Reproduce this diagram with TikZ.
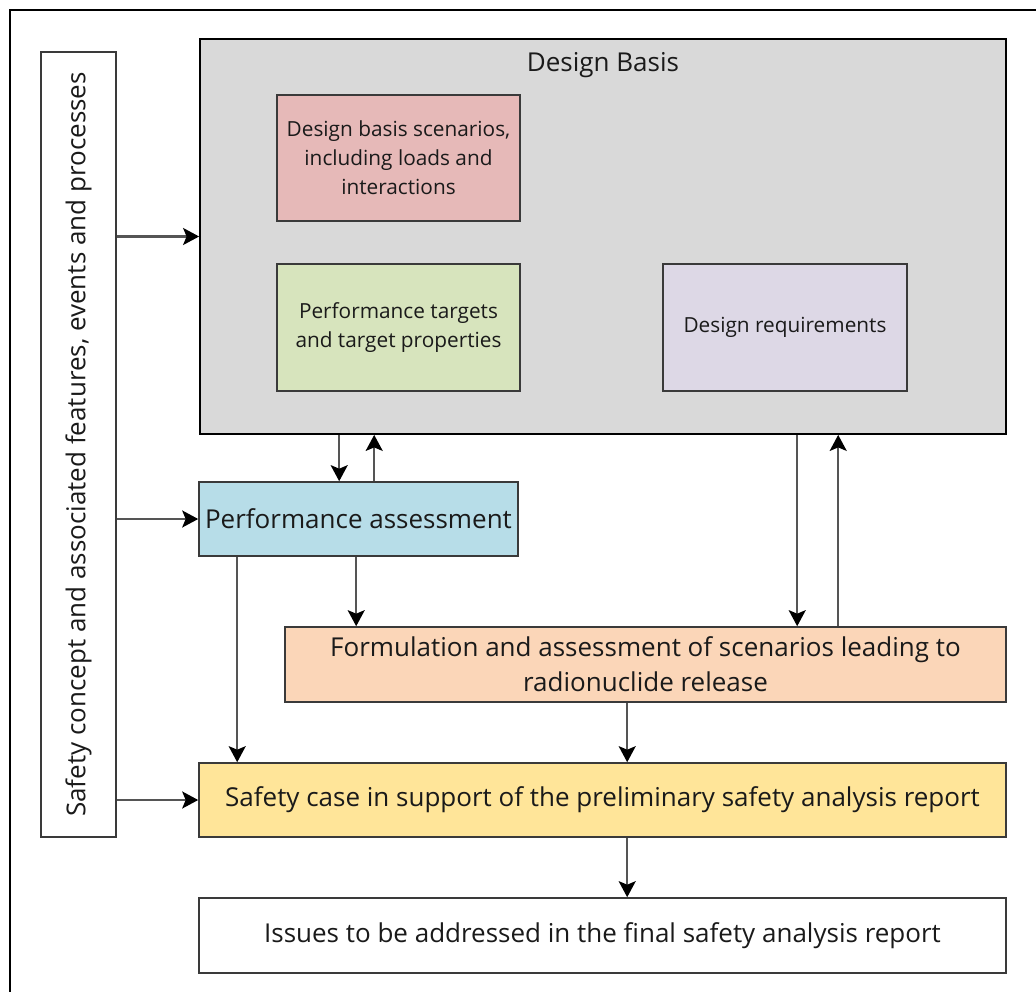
\documentclass[tikz,border=0pt]{standalone}
\usepackage{fontspec}
\setmainfont{Open Sans}
\usetikzlibrary{arrows.meta,calc}
\definecolor{dbgray}{HTML}{D9D9D9}
\definecolor{redfill}{HTML}{E6B9B8}
\definecolor{greenfill}{HTML}{D7E4BD}
\definecolor{purplefill}{HTML}{DDD8E6}
\definecolor{bluefill}{HTML}{B7DDE8}
\definecolor{peachfill}{HTML}{FBD6B8}
\definecolor{yellowfill}{HTML}{FFE599}
\definecolor{boxline}{HTML}{3A3A3A}
\definecolor{arrline}{HTML}{555555}
\definecolor{txt}{HTML}{1A1A1A}
\begin{document}
\begin{tikzpicture}[x=1pt,y=-1pt,
  box/.style={draw=boxline,line width=1.6pt,rectangle,inner sep=0pt,align=center,text=txt},
  label/.style={inner sep=0pt,align=center,text=txt},
  arr/.style={draw=arrline,line width=2.3pt,-{Stealth[length=16pt,width=17pt,inset=3.5pt,color=black,fill=black]}},
  big/.style={font=\fontsize{26}{35}\selectfont},
  small/.style={font=\fontsize{20.8}{29}\selectfont}]
\useasboundingbox (0,0) rectangle (1036,992);
% outer frame, running past the right and bottom edges
\begin{scope}
  \clip (0,0) rectangle (1036,992);
  \draw[line width=2.2pt] (10,10) rectangle (1060,1020);
\end{scope}

% side bar
\node[box,fill=white,minimum width=75pt,minimum height=785pt] (side) at (78.5,444.5) {};
\node[label,big,rotate=90] (sidetext) at (side.center) {Safety concept and associated features, events and processes};

% design basis group
\node[box,fill=dbgray,draw=black,line width=1.8pt,minimum width=806pt,minimum height=395pt] (db) at (603,236.5) {};
\node[label,big,anchor=base] (dbtitle) at (603,72) {Design Basis};
\node[box,small,fill=redfill,minimum width=243pt,minimum height=126pt] (scen) at (398.5,158) {Design basis scenarios,\\including loads and\\interactions};
\node[box,small,fill=greenfill,minimum width=243pt,minimum height=127pt] (targ) at (398.5,327.5) {Performance targets\\and target properties};
\node[box,small,fill=purplefill,minimum width=244pt,minimum height=127pt] (req) at (785,327.5) {Design requirements};

% process chain
\node[box,big,fill=bluefill,minimum width=319pt,minimum height=74pt] (perf) at (358.5,519) {Performance assessment};
\node[box,big,fill=peachfill,minimum width=721pt,minimum height=75pt] (form) at (645.5,664.5) {Formulation and assessment of scenarios leading to\\radionuclide release};
\node[box,big,fill=yellowfill,minimum width=807pt,minimum height=74pt] (safe) at (602.5,800) {Safety case in support of the preliminary safety analysis report};
\node[box,big,fill=white,minimum width=807pt,minimum height=75pt] (issues) at (602.5,935.5) {Issues to be addressed in the final safety analysis report};

% connector columns
\coordinate (c1) at ($(perf.north west)+(141,0)$);
\coordinate (c2) at ($(perf.north west)+(176,0)$);
\coordinate (c3) at ($(form.north west)+(513,0)$);
\coordinate (c4) at ($(form.north west)+(554,0)$);
\coordinate (c5) at ($(perf.south west)+(158,0)$);
\coordinate (c6) at ($(perf.south west)+(39,0)$);
\coordinate (c7) at ($(form.south west)+(343,0)$);

% connectors
\draw[arr] (side.east |- db.west) -- (db.west);
\draw[arr] (side.east |- perf.west) -- (perf.west);
\draw[arr] (side.east |- safe.west) -- (safe.west);
\draw[arr] (c1 |- db.south) -- (c1);
\draw[arr] (c2) -- (c2 |- db.south);
\draw[arr] (c3 |- db.south) -- (c3);
\draw[arr] (c4) -- (c4 |- db.south);
\draw[arr] (c5) -- (c5 |- form.north);
\draw[arr] (c6) -- (c6 |- safe.north);
\draw[arr] (c7) -- (c7 |- safe.north);
\draw[arr] (c7 |- safe.south) -- (c7 |- issues.north);
\end{tikzpicture}
\end{document}
